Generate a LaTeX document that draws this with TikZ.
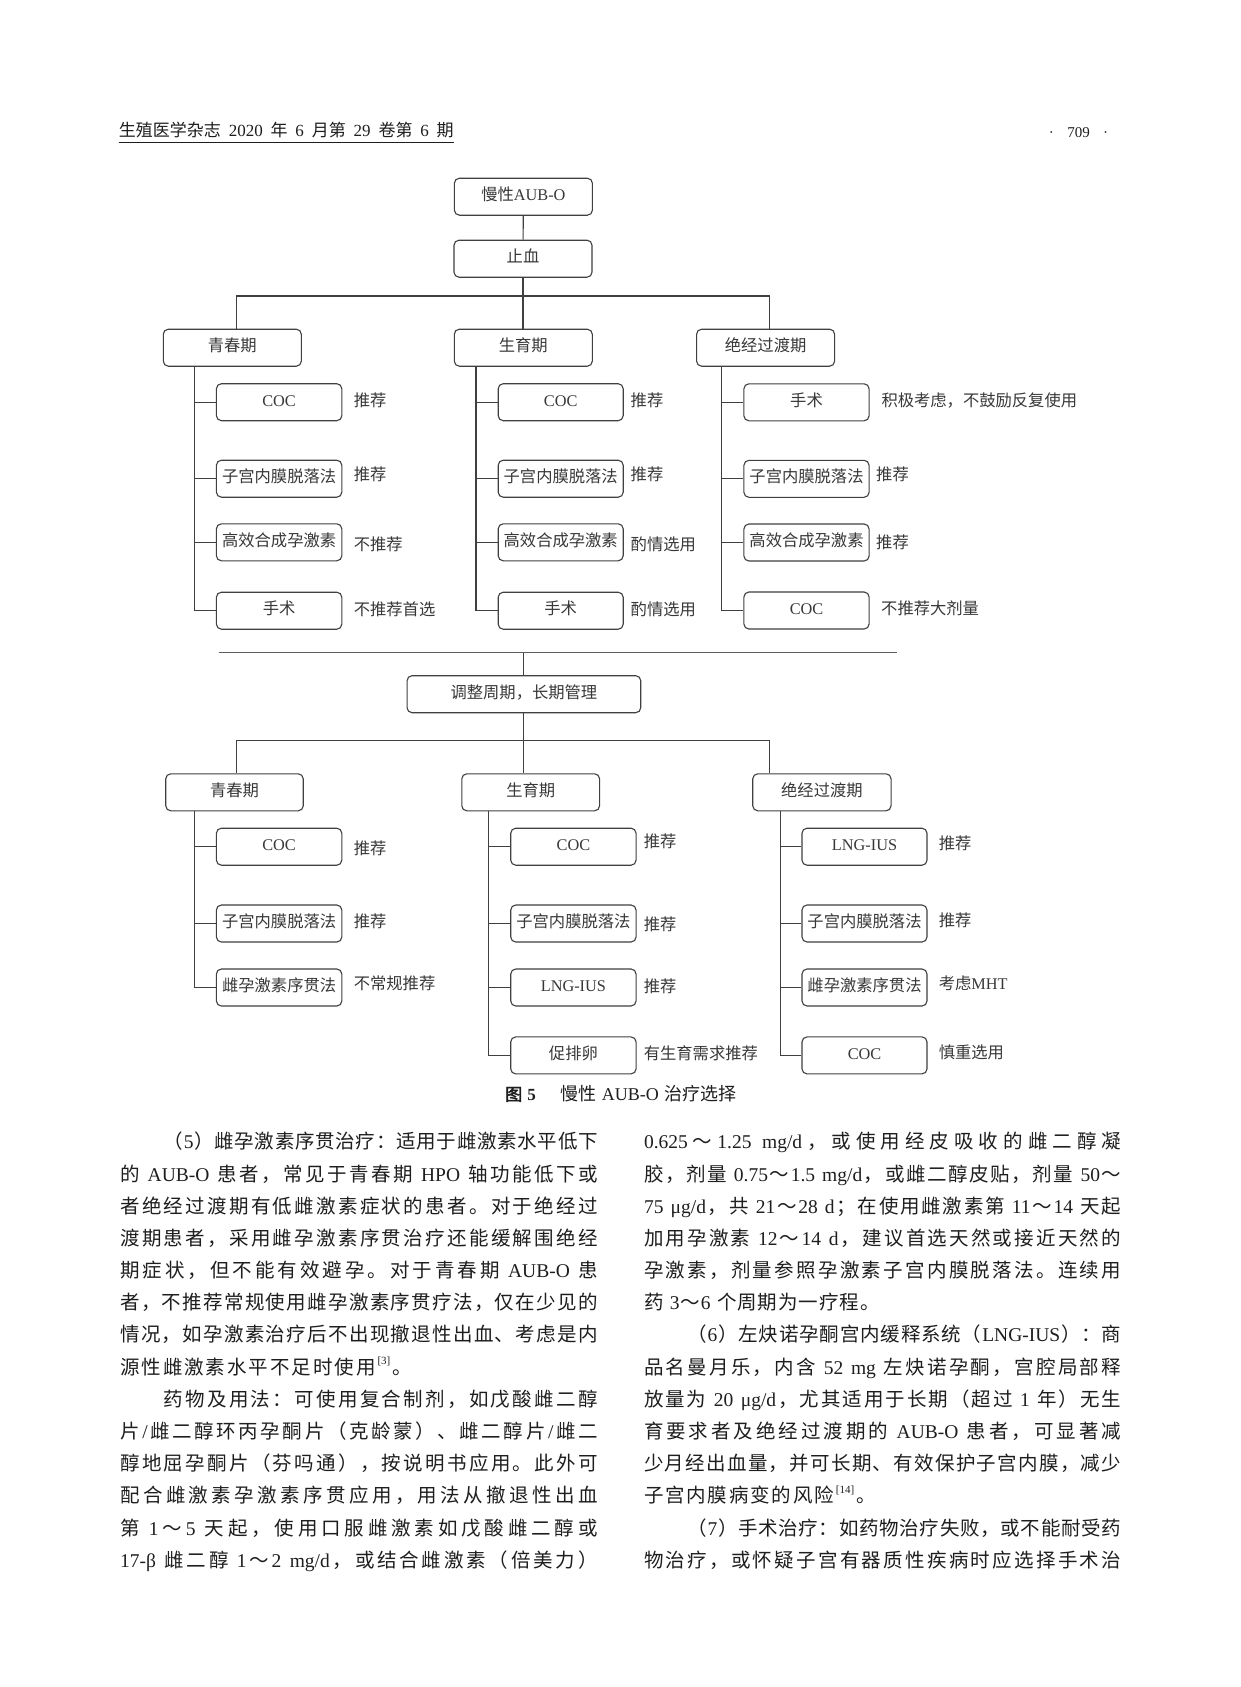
\documentclass[tikz,border=0pt]{standalone}
\usepackage{fontspec}
\setmainfont{Noto Sans CJK SC}
\newfontfamily\latf{Liberation Serif}
\newfontfamily\cjkbold[FakeBold=2.5]{Noto Sans CJK SC}
\newcommand\la[1]{{\latf #1}}
\newcommand\lw[1]{\hspace{0.28em}{\latf #1}\hspace{0.28em}}
\newcommand\lwl[1]{\hspace{0.28em}{\latf #1}}
\newcommand\lwr[1]{{\latf #1}\hspace{0.28em}}
\definecolor{lc}{HTML}{404040}
\definecolor{tc}{HTML}{383838}
\definecolor{bc}{HTML}{1E1E1E}
\ExplSyntaxOn
\NewDocumentCommand\spreadfil{m}{\skip_horizontal:n{0pt~plus~-1fil}\tl_map_inline:nn{#1}{\hfil{##1}}}
\ExplSyntaxOff
\newcommand\jl[2][477.6pt]{\makebox[#1][s]{\spreadfil{#2}}}
\newcommand\sref[1]{\raisebox{0.5em}{\latf\fontsize{11pt}{11pt}\selectfont[#1]}}
\newcommand\dfnt{\fontsize{16.3pt}{18pt}\selectfont}
\newcommand\bfnt{\fontsize{19.5pt}{22pt}\selectfont}
\tikzset{
  box/.style={draw=lc, line width=1.1pt, rounded corners=5pt, inner sep=0pt, text=tc,
    font=\dfnt, minimum height=37pt, text height=0.88em, text depth=0.12em},
  lab/.style={anchor=west, inner sep=0pt, text=tc, font=\dfnt, text height=0.88em, text depth=0.12em},
  conn/.style={draw=lc, line width=1.1pt},
  bl/.style={anchor=west, inner sep=0pt, font=\bfnt, text=bc, text height=0.88em, text depth=0.12em},
}
\begin{document}
\begin{tikzpicture}[x=1pt,y=-1pt]
\fill[white] (0,0) rectangle (1241,1687);
\useasboundingbox (0,0) rectangle (1241,1687);

% header
\node[anchor=west, inner sep=0pt, font=\fontsize{17pt}{19pt}\selectfont, text=bc, text height=0.88em, text depth=0.12em] (hdr) at (118.7,133)
  {\makebox[334.8pt][s]{生殖医学杂志 {\latf 2020} 年 {\latf 6} 月第 {\latf 29} 卷第 {\latf 6} 期}};
\draw[line width=1.4pt, bc] (118.7,142.5) -- (453.5,142.5);
\node[anchor=west, inner sep=0pt, font=\fontsize{15pt}{16pt}\selectfont, text=bc] (pg) at (1048.7,133)
  {\makebox[59.3pt][s]{\latf ·\hfil 709\hfil ·}};

% ---------- top section ----------
\node[box, minimum width=138pt] (top) at (523.4,196.7) {慢性\la{AUB-O}};
\node[box, minimum width=138pt] (zx) at (523.0,258.7) {止血};
\node[box, minimum width=138pt] (q1) at (232.3,347.7) {青春期};
\node[box, minimum width=138pt] (s1) at (523.3,347.7) {生育期};
\node[box, minimum width=138pt] (j1) at (765.6,347.7) {绝经过渡期};

\node[box, minimum width=125.4pt] (a1) at (279.1,402.2) {\la{COC}};
\node[box, minimum width=125.4pt] (a2) at (279.1,478.7) {子宫内膜脱落法};
\node[box, minimum width=125.4pt] (a3) at (279.1,542.3) {高效合成孕激素};
\node[box, minimum width=125.4pt] (a4) at (279.1,610.7) {手术};

\node[box, minimum width=125pt] (b1) at (560.7,402.2) {\la{COC}};
\node[box, minimum width=125pt] (b2) at (560.7,478.7) {子宫内膜脱落法};
\node[box, minimum width=125pt] (b3) at (560.7,542.3) {高效合成孕激素};
\node[box, minimum width=125pt] (b4) at (560.7,610.7) {手术};

\node[box, minimum width=125.2pt] (c1) at (806.5,402.3) {手术};
\node[box, minimum width=125.2pt] (c2) at (806.5,478.8) {子宫内膜脱落法};
\node[box, minimum width=125.2pt] (c3) at (806.5,542.5) {高效合成孕激素};
\node[box, minimum width=125.2pt] (c4) at (806.5,610.5) {\la{COC}};

\node[lab] (la1) at (353.6,402.2) {推荐};
\node[lab] (la2) at (353.6,477.0) {推荐};
\node[lab] (la3) at (353.6,546.7) {不推荐};
\node[lab] (la4) at (353.6,611.7) {不推荐首选};
\node[lab] (lb1) at (630.5,402.2) {推荐};
\node[lab] (lb2) at (630.5,477.0) {推荐};
\node[lab] (lb3) at (630.5,546.7) {酌情选用};
\node[lab] (lb4) at (630.5,611.7) {酌情选用};
\node[lab] (lc1) at (881.3,402.3) {积极考虑，不鼓励反复使用};
\node[lab] (lc2) at (876.0,476.7) {推荐};
\node[lab] (lc3) at (876.0,545.0) {推荐};
\node[lab] (lc4) at (881.0,611.0) {不推荐大剂量};

\coordinate (b1L) at (236.4,296);
\coordinate (b1R) at (769.7,296);
\coordinate (v1) at (194.6,0);
\coordinate (v2) at (476.0,0);
\coordinate (v3) at (721.8,0);
\draw[conn] (top) -- (zx);
\draw[conn] (zx.south) -- (zx.south |- s1.north);
\draw[conn] (b1L) -- (b1R);
\draw[conn] (b1L) -- (b1L |- q1.north);
\draw[conn] (b1R) -- (b1R |- j1.north);
\draw[conn] (q1.south -| v1) |- (a4.west);
\foreach \n in {a1,a2,a3} \draw[conn] (\n.west -| v1) -- (\n.west);
\draw[conn] (s1.south -| v2) |- (b4.west);
\foreach \n in {b1,b2,b3} \draw[conn] (\n.west -| v2) -- (\n.west);
\draw[conn] (j1.south -| v3) |- (c4.west);
\foreach \n in {c1,c2,c3} \draw[conn] (\n.west -| v3) -- (\n.west);

% ---------- separator ----------
\coordinate (sepL) at (218.6,652.7);
\coordinate (sepR) at (896.7,652.7);
\draw[conn, draw=lc!85] (sepL) -- (sepR);

% ---------- bottom section ----------
\node[box, minimum width=233.7pt] (tz) at (523.9,694.2) {调整周期，长期管理};
\draw[conn] (tz.north |- sepL) -- (tz.north);
\node[box, minimum width=137.5pt] (q2) at (234.5,792.3) {青春期};
\node[box, minimum width=137.8pt] (s2) at (530.7,792.3) {生育期};
\node[box, minimum width=138.3pt] (j2) at (821.9,792.3) {绝经过渡期};

\node[box, minimum width=125.4pt] (d1) at (279.1,846.7) {\la{COC}};
\node[box, minimum width=125.4pt] (d2) at (279.1,923.5) {子宫内膜脱落法};
\node[box, minimum width=125.4pt] (d3) at (279.1,987.5) {雌孕激素序贯法};

\node[box, minimum width=125.3pt] (e1) at (573.4,846.7) {\la{COC}};
\node[box, minimum width=125.3pt] (e2) at (573.4,923.5) {子宫内膜脱落法};
\node[box, minimum width=125.3pt] (e3) at (573.4,987.5) {\la{LNG-IUS}};
\node[box, minimum width=125.3pt] (e4) at (573.4,1055.4) {促排卵};

\node[box, minimum width=125pt] (f1) at (864.5,846.7) {\la{LNG-IUS}};
\node[box, minimum width=125pt] (f2) at (864.5,923.5) {子宫内膜脱落法};
\node[box, minimum width=125pt] (f3) at (864.5,987.5) {雌孕激素序贯法};
\node[box, minimum width=125pt] (f4) at (864.5,1055.4) {\la{COC}};

\node[lab] (ld1) at (353.6,850.7) {推荐};
\node[lab] (ld2) at (353.6,923.3) {推荐};
\node[lab] (ld3) at (353.6,986.0) {不常规推荐};
\node[lab] (le1) at (643.6,843.3) {推荐};
\node[lab] (le2) at (643.6,926.7) {推荐};
\node[lab] (le3) at (643.6,989.0) {推荐};
\node[lab] (le4) at (643.6,1055.7) {有生育需求推荐};
\node[lab] (lf1) at (938.6,845.7) {推荐};
\node[lab] (lf2) at (938.6,922.3) {推荐};
\node[lab] (lf3) at (938.6,986.0) {考虑\la{MHT}};
\node[lab] (lf4) at (938.6,1055.0) {慎重选用};

\coordinate (b2L) at (236.4,740.7);
\coordinate (b2R) at (769.5,740.7);
\coordinate (w1) at (194.6,0);
\coordinate (w2) at (488.6,0);
\coordinate (w3) at (780.7,0);
\draw[conn] (tz.south) -- (tz.south |- s2.north);
\draw[conn] (b2L) -- (b2R);
\draw[conn] (b2L) -- (b2L |- q2.north);
\draw[conn] (b2R) -- (b2R |- j2.north);
\draw[conn] (q2.south -| w1) |- (d3.west);
\foreach \n in {d1,d2} \draw[conn] (\n.west -| w1) -- (\n.west);
\draw[conn] (s2.south -| w2) |- (e4.west);
\foreach \n in {e1,e2,e3} \draw[conn] (\n.west -| w2) -- (\n.west);
\draw[conn] (j2.south -| w3) |- (f4.west);
\foreach \n in {f1,f2,f3} \draw[conn] (\n.west -| w3) -- (\n.west);

% caption
\node[anchor=west, inner sep=0pt, font=\fontsize{17pt}{19pt}\selectfont, text=bc, text height=0.88em, text depth=0.12em] (cap) at (505,1096.7)
  {{\cjkbold 图}\hspace{0.3em}{\latf\bfseries 5}\hspace{1.45em}{\fontsize{18pt}{19pt}\selectfont 慢性\hspace{0.3em}{\latf AUB-O}\hspace{0.3em}治疗选择}};

% ---------- body text, left column ----------
\node[bl] (l01) at (163.4,1145.0) {\jl[434.2pt]{（{\latf 5}）雌孕激素序贯治疗：适用于雌激素水平低下}};
\node[bl] (l02) at (120,1177.2) {\jl{的{\lw{AUB-O}}患者，常见于青春期{\lw{HPO}}轴功能低下或}};
\node[bl] (l03) at (120,1209.4) {\jl{者绝经过渡期有低雌激素症状的患者。对于绝经过}};
\node[bl] (l04) at (120,1241.5) {\jl{渡期患者，采用雌孕激素序贯治疗还能缓解围绝经}};
\node[bl] (l05) at (120,1273.7) {\jl{期症状，但不能有效避孕。对于青春期{\lw{AUB-O}}患}};
\node[bl] (l06) at (120,1305.9) {\jl{者，不推荐常规使用雌孕激素序贯疗法，仅在少见的}};
\node[bl] (l07) at (120,1338.1) {\jl{情况，如孕激素治疗后不出现撤退性出血、考虑是内}};
\node[bl] (l08) at (120,1370.3) {\jl[291.6pt]{源性雌激素水平不足时使用{\sref{3}}。}};
\node[bl] (l09) at (163.4,1402.4) {\jl[434.2pt]{药物及用法：可使用复合制剂，如戊酸雌二醇}};
\node[bl] (l10) at (120,1434.6) {\jl{片{\latf /}雌二醇环丙孕酮片（克龄蒙）、雌二醇片{\latf /}雌二}};
\node[bl] (l11) at (120,1466.8) {\jl{醇地屈孕酮片（芬吗通），按说明书应用。此外可}};
\node[bl] (l12) at (120,1499.0) {\jl{配合雌激素孕激素序贯应用，用法从撤退性出血}};
\node[bl] (l13) at (120,1531.2) {\jl{第{\lwl{1}}～{\lwr{5}}天起，使用口服雌激素如戊酸雌二醇或}};
\node[bl] (l14) at (120,1563.3) {\jl{{\lwr{17-β}}雌二醇{\lwl{1}}～{\latf 2}{\lwl{mg/d}}，或结合雌激素（倍美力）}};

% ---------- body text, right column ----------
\node[bl] (r01) at (643.8,1145.0) {\jl[477.2pt]{{\latf 0.625}～{\latf 1.25}{\lwl{mg/d}}，或使用经皮吸收的雌二醇凝}};
\node[bl] (r02) at (643.8,1177.2) {\jl[477.2pt]{胶，剂量{\lwl{0.75}}～{\latf 1.5}{\lwl{mg/d}}，或雌二醇皮贴，剂量{\lwl{50}}～}};
\node[bl] (r03) at (643.8,1209.4) {\jl[477.2pt]{{\latf 75}{\lwl{μg/d}}，共{\lwl{21}}～{\latf 28}{\lwl{d}}；在使用雌激素第{\lwl{11}}～{\lwr{14}}天起}};
\node[bl] (r04) at (643.8,1241.5) {\jl[477.2pt]{加用孕激素{\lwl{12}}～{\latf 14}{\lwl{d}}，建议首选天然或接近天然的}};
\node[bl] (r05) at (643.8,1273.7) {\jl[477.2pt]{孕激素，剂量参照孕激素子宫内膜脱落法。连续用}};
\node[bl] (r06) at (643.8,1305.9) {\jl[235.6pt]{药{\lwl{3}}～{\lwr{6}}个周期为一疗程。}};
\node[bl] (r07) at (687.2,1338.1) {\jl[433.8pt]{（{\latf 6}）左炔诺孕酮宫内缓释系统（{\latf LNG-IUS}）：商}};
\node[bl] (r08) at (643.8,1370.3) {\jl[477.2pt]{品名曼月乐，内含{\lwl{52}}{\lw{mg}}左炔诺孕酮，宫腔局部释}};
\node[bl] (r09) at (643.8,1402.4) {\jl[477.2pt]{放量为{\lwl{20}}{\lwl{μg/d}}，尤其适用于长期（超过{\lw{1}}年）无生}};
\node[bl] (r10) at (643.8,1434.6) {\jl[477.2pt]{育要求者及绝经过渡期的{\lw{AUB-O}}患者，可显著减}};
\node[bl] (r11) at (643.8,1466.8) {\jl[477.2pt]{少月经出血量，并可长期、有效保护子宫内膜，减少}};
\node[bl] (r12) at (643.8,1499.0) {\jl[231.6pt]{子宫内膜病变的风险{\sref{14}}。}};
\node[bl] (r13) at (687.2,1531.2) {\jl[433.8pt]{（{\latf 7}）手术治疗：如药物治疗失败，或不能耐受药}};
\node[bl] (r14) at (643.8,1563.3) {\jl[477.2pt]{物治疗，或怀疑子宫有器质性疾病时应选择手术治}};
\end{tikzpicture}
\end{document}
